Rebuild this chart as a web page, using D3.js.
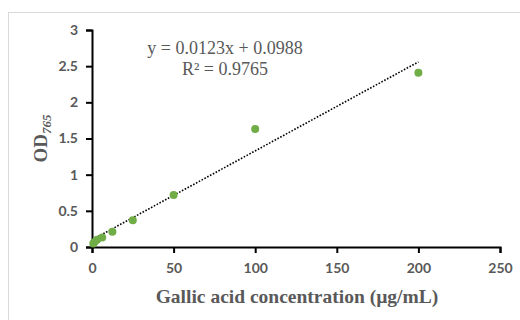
<!DOCTYPE html>
<html>
<head>
<meta charset="utf-8">
<script src="https://cdn.jsdelivr.net/npm/d3@7"></script>
<style>
  body { margin: 0; background: #fff; }
  .tick text { font-family: Lato, "Open Sans", sans-serif; font-weight: bold; font-size: 14px; fill: #595959; }
</style>
</head>
<body>
<svg id="chart" width="520" height="320"></svg>
<script>
// gallic acid standard curve
const concentrations = [0.78, 1.56, 3.125, 6.25, 12.5, 25, 50, 100, 200];
const absorbance = [0.05, 0.07, 0.10, 0.13, 0.21, 0.37, 0.72, 1.63, 2.41];
const xTicks = [0, 50, 100, 150, 200, 250];
const yTicks = [0, 0.5, 1, 1.5, 2, 2.5, 3];
const slope = 0.0123;
const intercept = 0.0988;
const rSquared = '0.9765';

const width = 520, height = 320;
const margin = {top: 30, right: 20, bottom: 73, left: 92};

const svg = d3.select('#chart');

svg.append('rect')
  .attr('x', 8.5).attr('y', 12.5)
  .attr('width', width).attr('height', height)
  .attr('fill', 'none').attr('stroke', '#d9d9d9');

const x = d3.scaleLinear().domain([0, 250]).range([margin.left, 500]);
const y = d3.scaleLinear().domain([0, 3]).range([height - margin.bottom, margin.top]);

const xAxis = g => g
  .attr('transform', `translate(0,${y(0)})`)
  .call(d3.axisBottom(x).tickValues(xTicks).tickSizeOuter(0).tickSize(6).tickPadding(10))
  .call(g => g.selectAll('line, path').attr('stroke', '#000').attr('stroke-width', 2));

const yAxis = g => g
  .attr('transform', `translate(${x(0)},0)`)
  .call(d3.axisLeft(y).tickValues(yTicks).tickFormat(d3.format('')).tickSizeOuter(0).tickSize(6).tickPadding(8))
  .call(g => g.selectAll('line, path').attr('stroke', '#000').attr('stroke-width', 2));

svg.append('g').call(xAxis);
svg.append('g').call(yAxis);

// linear trendline
const xMax = d3.max(concentrations);
svg.append('line')
  .attr('x1', x(0)).attr('y1', y(intercept))
  .attr('x2', x(xMax)).attr('y2', y(intercept + slope * xMax))
  .attr('stroke', '#000').attr('stroke-width', 1.6)
  .attr('stroke-dasharray', '1.6,1.6');

svg.append('g')
  .selectAll('circle')
  .data(concentrations)
  .join('circle')
  .attr('cx', d => x(d))
  .attr('cy', (d, i) => y(absorbance[i]))
  .attr('r', 4)
  .attr('fill', '#70ad47');

const eq = svg.append('text')
  .attr('x', 225).attr('y', 54)
  .attr('text-anchor', 'middle')
  .style('font-family', '"Liberation Serif", serif')
  .style('font-size', '18px')
  .attr('fill', '#595959');
eq.append('tspan').text(`y = ${slope}x + ${intercept}`);
eq.append('tspan').attr('x', 225).attr('dy', 21).text(`R² = ${rSquared}`);

svg.append('text')
  .attr('x', 297).attr('y', 303)
  .attr('text-anchor', 'middle')
  .style('font-family', '"Liberation Serif", serif')
  .style('font-weight', 'bold')
  .style('font-size', '19.5px')
  .attr('fill', '#595959')
  .text('Gallic acid concentration (µg/mL)');

const yt = svg.append('text')
  .attr('transform', `translate(47,${(y(0) + y(3)) / 2}) rotate(-90)`)
  .attr('text-anchor', 'middle')
  .style('font-family', '"Liberation Serif", serif')
  .style('font-weight', 'bold')
  .style('font-size', '19px')
  .attr('fill', '#595959');
yt.append('tspan').text('OD');
yt.append('tspan').attr('dy', 4).style('font-size', '13px').style('font-style', 'italic').text('765');
</script>
</body>
</html>
